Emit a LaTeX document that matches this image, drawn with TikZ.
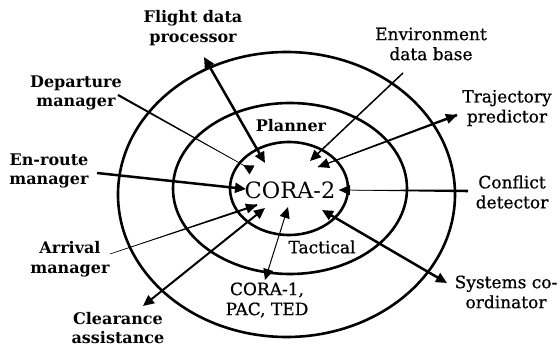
\documentclass[tikz,border=0pt]{standalone}
\usepackage{fontspec}
\setmainfont{DejaVu Serif}
\newfontfamily\medfont{DejaVu Serif}[FakeBold=0.7]
\usetikzlibrary{arrows.meta,calc}

% filled band from #1 (half width #3) to #2 (half width #4)
\newcommand{\taperline}[4]{%
  \fill ($(#1)!#3!90:(#2)$) -- ($(#1)!#3!-90:(#2)$)
     -- ($(#2)!#4!90:(#1)$) -- ($(#2)!#4!-90:(#1)$) -- cycle;}

\begin{document}
\begin{tikzpicture}[x=1pt,y=-1pt,
    lbl/.style={align=center,inner sep=0pt,font=\fontsize{17}{20}\selectfont\medfont},
    lblb/.style={lbl,font=\fontsize{16}{19.5}\selectfont\bfseries},
    ring/.style={line width=2.6pt},
    head/.style={-{Triangle[length=11pt,width=10pt]}},
    heads/.style={{Triangle[length=11pt,width=10pt]}-{Triangle[length=11pt,width=10pt]}}]
    \useasboundingbox (0,0) rectangle (560,347);

    % the three layers
    \draw[ring] (286.5,194.5) ellipse [x radius=168.5, y radius=142.5];
    \draw[ring] (290,188.5) ellipse [x radius=117, y radius=85.5];
    \draw[ring] (289,188.5) ellipse [x radius=59, y radius=46.5];

    \node[inner sep=0pt, font=\fontsize{22.5}{24}\selectfont] (core) at (290,190) {CORA-2};
    \node[lblb] (planner) at (291,126) {Planner};
    \node[lbl] (tactical) at (322,247) {Tactical};

    % agents round the rings
    \node[lblb] (fdp) at (193,28) {Flight data\\processor};
    \node[lbl] (edb) at (431,44) {Environment\\data base};
    \node[lbl] (tp) at (507,108) {Trajectory\\predictor};
    \node[lblb] (dm) at (76,93) {Departure\\manager};
    \node[lblb] (erm) at (49,171) {En-route\\manager};
    \node[lbl] (cd) at (512,192) {Conflict\\detector};
    \node[lblb] (am) at (70,259) {Arrival\\manager};
    \node[lblb] (ca) at (118,328) {Clearance\\assistance};
    \node[lbl] (cora1) at (267,300) {CORA-1,\\PAC, TED};
    \node[lbl] (sc) at (506,292) {Systems co-\\ordinator};

    % arrow ends
    \coordinate (fdpA) at (204,57);  \coordinate (fdpB) at (265,163);
    \coordinate (edbA) at (403,73);  \coordinate (edbB) at (310,161);
    \coordinate (tpA) at (457,115);  \coordinate (tpB) at (318,167);
    \coordinate (dmA) at (118,95);   \coordinate (dmB) at (252,170);
    \coordinate (ermA) at (97,173);  \coordinate (ermB) at (246,189);
    \coordinate (cdA) at (468,191);  \coordinate (cdB) at (339,190);
    \coordinate (amA) at (110,254);  \coordinate (amB) at (257,205);
    \coordinate (caA) at (143,306);  \coordinate (caB) at (265,208);
    \coordinate (c1A) at (265,280);  \coordinate (c1B) at (288,207);
    \coordinate (scA) at (447,283);  \coordinate (scB) at (322,210);

    \draw[line width=2.5pt, heads] (fdpA) -- (fdpB);
    \draw[line width=1.5pt, head] (edbA) -- (edbB);
    \taperline{tpA}{tpB}{1.3pt}{0.5pt}
    \draw[line width=0.9pt, heads] (tpA) -- (tpB);
    \taperline{dmA}{dmB}{1.1pt}{0.2pt}
    \draw[line width=0.3pt, -{Triangle[length=10pt,width=10pt,reversed]}] (dmA) -- (dmB);
    \draw[line width=2.5pt, head] (ermA) -- (ermB);
    \taperline{cdA}{cdB}{1.3pt}{0.2pt}
    \draw[line width=0.3pt, head] (cdA) -- (cdB);
    \taperline{amA}{amB}{0.2pt}{1.1pt}
    \draw[line width=0.3pt, head] (amA) -- (amB);
    \draw[line width=2pt, heads] (caA) -- (caB);
    \draw[line width=1pt, heads] (c1A) -- (c1B);
    \draw[line width=2.5pt, heads] (scA) -- (scB);
\end{tikzpicture}
\end{document}
